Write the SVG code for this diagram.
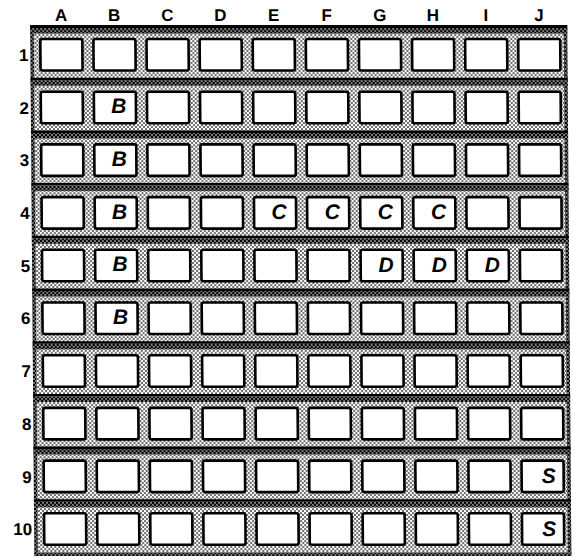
<svg xmlns="http://www.w3.org/2000/svg" width="575" height="557" viewBox="0 0 575 557">
<style>
.cell{fill:#fff;stroke:#000;stroke-width:2.6}
.hd{font-family:"Liberation Sans",Arial,sans-serif;font-weight:bold;font-size:17px;fill:#000;text-anchor:middle}
.rl{font-family:"Liberation Sans",Arial,sans-serif;font-weight:bold;font-size:17px;fill:#000;text-anchor:end}
.lt{font-family:"Liberation Sans",Arial,sans-serif;font-weight:bold;font-style:italic;font-size:21px;fill:#000;text-anchor:middle}
</style>
<defs>
<pattern id="light" patternUnits="userSpaceOnUse" width="4" height="4">
<rect width="4" height="4" fill="#fff"/>
<circle cx="1" cy="1" r="0.9" fill="#000"/>
<circle cx="3" cy="3" r="0.9" fill="#000"/>
</pattern>
<pattern id="dark" patternUnits="userSpaceOnUse" width="4" height="4">
<rect width="4" height="4" fill="#000"/>
<circle cx="1" cy="1" r="0.8" fill="#fff"/>
<circle cx="3" cy="3" r="0.8" fill="#fff"/>
</pattern>
</defs>
<rect width="575" height="557" fill="#fff"/>
<g transform="skewX(0.45)">
<g id="frame">
<rect x="30" y="25" width="537" height="531" fill="url(#light)"/>
<rect x="30" y="25" width="3.5" height="531" fill="url(#dark)"/>
<rect x="563.5" y="25" width="3.5" height="531" fill="url(#dark)"/>
<rect x="30" y="552.5" width="537" height="3.5" fill="url(#dark)"/>
</g>
<g id="separators">
<rect x="30" y="25" width="537" height="3" fill="#000"/><rect x="30" y="28" width="537" height="5.5" fill="url(#dark)"/>
<rect x="30" y="77.7" width="537" height="2.5" fill="#000"/><rect x="30" y="80.2" width="537" height="5.5" fill="url(#dark)"/>
<rect x="30" y="130.4" width="537" height="2.5" fill="#000"/><rect x="30" y="132.9" width="537" height="5.5" fill="url(#dark)"/>
<rect x="30" y="183.1" width="537" height="2.5" fill="#000"/><rect x="30" y="185.6" width="537" height="5.5" fill="url(#dark)"/>
<rect x="30" y="235.8" width="537" height="2.5" fill="#000"/><rect x="30" y="238.3" width="537" height="5.5" fill="url(#dark)"/>
<rect x="30" y="288.5" width="537" height="2.5" fill="#000"/><rect x="30" y="291" width="537" height="5.5" fill="url(#dark)"/>
<rect x="30" y="341.2" width="537" height="2.5" fill="#000"/><rect x="30" y="343.7" width="537" height="5.5" fill="url(#dark)"/>
<rect x="30" y="393.9" width="537" height="2.5" fill="#000"/><rect x="30" y="396.4" width="537" height="5.5" fill="url(#dark)"/>
<rect x="30" y="446.6" width="537" height="2.5" fill="#000"/><rect x="30" y="449.1" width="537" height="5.5" fill="url(#dark)"/>
<rect x="30" y="499.3" width="537" height="2.5" fill="#000"/><rect x="30" y="501.8" width="537" height="5.5" fill="url(#dark)"/>
</g>
<g id="column-headers">
<text class="hd" x="61" y="21.5">A</text>
<text class="hd" x="114.1" y="21.5">B</text>
<text class="hd" x="167.2" y="21.5">C</text>
<text class="hd" x="220.3" y="21.5">D</text>
<text class="hd" x="273.4" y="21.5">E</text>
<text class="hd" x="326.5" y="21.5">F</text>
<text class="hd" x="379.6" y="21.5">G</text>
<text class="hd" x="432.7" y="21.5">H</text>
<text class="hd" x="485.8" y="21.5">I</text>
<text class="hd" x="538.9" y="21.5">J</text>
</g>
<g id="row-labels">
<text class="rl" x="28" y="61">1</text>
<text class="rl" x="28" y="113.7">2</text>
<text class="rl" x="28" y="166.4">3</text>
<text class="rl" x="28" y="219.1">4</text>
<text class="rl" x="28" y="271.8">5</text>
<text class="rl" x="28" y="324.5">6</text>
<text class="rl" x="28" y="377.2">7</text>
<text class="rl" x="28" y="429.9">8</text>
<text class="rl" x="28" y="482.6">9</text>
<text class="rl" x="28" y="535.3">10</text>
</g>
<g id="row1">
<g id="A1"><rect class="cell" x="40" y="39" width="42" height="31.5" rx="2"/></g>
<g id="B1"><rect class="cell" x="93.1" y="39" width="42" height="31.5" rx="2"/></g>
<g id="C1"><rect class="cell" x="146.2" y="39" width="42" height="31.5" rx="2"/></g>
<g id="D1"><rect class="cell" x="199.3" y="39" width="42" height="31.5" rx="2"/></g>
<g id="E1"><rect class="cell" x="252.4" y="39" width="42" height="31.5" rx="2"/></g>
<g id="F1"><rect class="cell" x="305.5" y="39" width="42" height="31.5" rx="2"/></g>
<g id="G1"><rect class="cell" x="358.6" y="39" width="42" height="31.5" rx="2"/></g>
<g id="H1"><rect class="cell" x="411.7" y="39" width="42" height="31.5" rx="2"/></g>
<g id="I1"><rect class="cell" x="464.8" y="39" width="42" height="31.5" rx="2"/></g>
<g id="J1"><rect class="cell" x="517.9" y="39" width="42" height="31.5" rx="2"/></g>
</g>
<g id="row2">
<g id="A2"><rect class="cell" x="40" y="91.7" width="42" height="31.5" rx="2"/></g>
<g id="B2"><rect class="cell" x="93.1" y="91.7" width="42" height="31.5" rx="2"/><text class="lt" x="118" y="113.2">B</text></g>
<g id="C2"><rect class="cell" x="146.2" y="91.7" width="42" height="31.5" rx="2"/></g>
<g id="D2"><rect class="cell" x="199.3" y="91.7" width="42" height="31.5" rx="2"/></g>
<g id="E2"><rect class="cell" x="252.4" y="91.7" width="42" height="31.5" rx="2"/></g>
<g id="F2"><rect class="cell" x="305.5" y="91.7" width="42" height="31.5" rx="2"/></g>
<g id="G2"><rect class="cell" x="358.6" y="91.7" width="42" height="31.5" rx="2"/></g>
<g id="H2"><rect class="cell" x="411.7" y="91.7" width="42" height="31.5" rx="2"/></g>
<g id="I2"><rect class="cell" x="464.8" y="91.7" width="42" height="31.5" rx="2"/></g>
<g id="J2"><rect class="cell" x="517.9" y="91.7" width="42" height="31.5" rx="2"/></g>
</g>
<g id="row3">
<g id="A3"><rect class="cell" x="40" y="144.4" width="42" height="31.5" rx="2"/></g>
<g id="B3"><rect class="cell" x="93.1" y="144.4" width="42" height="31.5" rx="2"/><text class="lt" x="118" y="165.9">B</text></g>
<g id="C3"><rect class="cell" x="146.2" y="144.4" width="42" height="31.5" rx="2"/></g>
<g id="D3"><rect class="cell" x="199.3" y="144.4" width="42" height="31.5" rx="2"/></g>
<g id="E3"><rect class="cell" x="252.4" y="144.4" width="42" height="31.5" rx="2"/></g>
<g id="F3"><rect class="cell" x="305.5" y="144.4" width="42" height="31.5" rx="2"/></g>
<g id="G3"><rect class="cell" x="358.6" y="144.4" width="42" height="31.5" rx="2"/></g>
<g id="H3"><rect class="cell" x="411.7" y="144.4" width="42" height="31.5" rx="2"/></g>
<g id="I3"><rect class="cell" x="464.8" y="144.4" width="42" height="31.5" rx="2"/></g>
<g id="J3"><rect class="cell" x="517.9" y="144.4" width="42" height="31.5" rx="2"/></g>
</g>
<g id="row4">
<g id="A4"><rect class="cell" x="40" y="197.1" width="42" height="31.5" rx="2"/></g>
<g id="B4"><rect class="cell" x="93.1" y="197.1" width="42" height="31.5" rx="2"/><text class="lt" x="118" y="218.6">B</text></g>
<g id="C4"><rect class="cell" x="146.2" y="197.1" width="42" height="31.5" rx="2"/></g>
<g id="D4"><rect class="cell" x="199.3" y="197.1" width="42" height="31.5" rx="2"/></g>
<g id="E4"><rect class="cell" x="252.4" y="197.1" width="42" height="31.5" rx="2"/><text class="lt" x="277.5" y="218.6">C</text></g>
<g id="F4"><rect class="cell" x="305.5" y="197.1" width="42" height="31.5" rx="2"/><text class="lt" x="330.6" y="218.6">C</text></g>
<g id="G4"><rect class="cell" x="358.6" y="197.1" width="42" height="31.5" rx="2"/><text class="lt" x="383.7" y="218.6">C</text></g>
<g id="H4"><rect class="cell" x="411.7" y="197.1" width="42" height="31.5" rx="2"/><text class="lt" x="436.8" y="218.6">C</text></g>
<g id="I4"><rect class="cell" x="464.8" y="197.1" width="42" height="31.5" rx="2"/></g>
<g id="J4"><rect class="cell" x="517.9" y="197.1" width="42" height="31.5" rx="2"/></g>
</g>
<g id="row5">
<g id="A5"><rect class="cell" x="40" y="249.8" width="42" height="31.5" rx="2"/></g>
<g id="B5"><rect class="cell" x="93.1" y="249.8" width="42" height="31.5" rx="2"/><text class="lt" x="118" y="271.5">B</text></g>
<g id="C5"><rect class="cell" x="146.2" y="249.8" width="42" height="31.5" rx="2"/></g>
<g id="D5"><rect class="cell" x="199.3" y="249.8" width="42" height="31.5" rx="2"/></g>
<g id="E5"><rect class="cell" x="252.4" y="249.8" width="42" height="31.5" rx="2"/></g>
<g id="F5"><rect class="cell" x="305.5" y="249.8" width="42" height="31.5" rx="2"/></g>
<g id="G5"><rect class="cell" x="358.6" y="249.8" width="42" height="31.5" rx="2"/><text class="lt" x="384" y="271.8">D</text></g>
<g id="H5"><rect class="cell" x="411.7" y="249.8" width="42" height="31.5" rx="2"/><text class="lt" x="437.1" y="271.8">D</text></g>
<g id="I5"><rect class="cell" x="464.8" y="249.8" width="42" height="31.5" rx="2"/><text class="lt" x="490.2" y="271.8">D</text></g>
<g id="J5"><rect class="cell" x="517.9" y="249.8" width="42" height="31.5" rx="2"/></g>
</g>
<g id="row6">
<g id="A6"><rect class="cell" x="40" y="302.5" width="42" height="31.5" rx="2"/></g>
<g id="B6"><rect class="cell" x="93.1" y="302.5" width="42" height="31.5" rx="2"/><text class="lt" x="118" y="324.2">B</text></g>
<g id="C6"><rect class="cell" x="146.2" y="302.5" width="42" height="31.5" rx="2"/></g>
<g id="D6"><rect class="cell" x="199.3" y="302.5" width="42" height="31.5" rx="2"/></g>
<g id="E6"><rect class="cell" x="252.4" y="302.5" width="42" height="31.5" rx="2"/></g>
<g id="F6"><rect class="cell" x="305.5" y="302.5" width="42" height="31.5" rx="2"/></g>
<g id="G6"><rect class="cell" x="358.6" y="302.5" width="42" height="31.5" rx="2"/></g>
<g id="H6"><rect class="cell" x="411.7" y="302.5" width="42" height="31.5" rx="2"/></g>
<g id="I6"><rect class="cell" x="464.8" y="302.5" width="42" height="31.5" rx="2"/></g>
<g id="J6"><rect class="cell" x="517.9" y="302.5" width="42" height="31.5" rx="2"/></g>
</g>
<g id="row7">
<g id="A7"><rect class="cell" x="40" y="355.2" width="42" height="31.5" rx="2"/></g>
<g id="B7"><rect class="cell" x="93.1" y="355.2" width="42" height="31.5" rx="2"/></g>
<g id="C7"><rect class="cell" x="146.2" y="355.2" width="42" height="31.5" rx="2"/></g>
<g id="D7"><rect class="cell" x="199.3" y="355.2" width="42" height="31.5" rx="2"/></g>
<g id="E7"><rect class="cell" x="252.4" y="355.2" width="42" height="31.5" rx="2"/></g>
<g id="F7"><rect class="cell" x="305.5" y="355.2" width="42" height="31.5" rx="2"/></g>
<g id="G7"><rect class="cell" x="358.6" y="355.2" width="42" height="31.5" rx="2"/></g>
<g id="H7"><rect class="cell" x="411.7" y="355.2" width="42" height="31.5" rx="2"/></g>
<g id="I7"><rect class="cell" x="464.8" y="355.2" width="42" height="31.5" rx="2"/></g>
<g id="J7"><rect class="cell" x="517.9" y="355.2" width="42" height="31.5" rx="2"/></g>
</g>
<g id="row8">
<g id="A8"><rect class="cell" x="40" y="407.9" width="42" height="31.5" rx="2"/></g>
<g id="B8"><rect class="cell" x="93.1" y="407.9" width="42" height="31.5" rx="2"/></g>
<g id="C8"><rect class="cell" x="146.2" y="407.9" width="42" height="31.5" rx="2"/></g>
<g id="D8"><rect class="cell" x="199.3" y="407.9" width="42" height="31.5" rx="2"/></g>
<g id="E8"><rect class="cell" x="252.4" y="407.9" width="42" height="31.5" rx="2"/></g>
<g id="F8"><rect class="cell" x="305.5" y="407.9" width="42" height="31.5" rx="2"/></g>
<g id="G8"><rect class="cell" x="358.6" y="407.9" width="42" height="31.5" rx="2"/></g>
<g id="H8"><rect class="cell" x="411.7" y="407.9" width="42" height="31.5" rx="2"/></g>
<g id="I8"><rect class="cell" x="464.8" y="407.9" width="42" height="31.5" rx="2"/></g>
<g id="J8"><rect class="cell" x="517.9" y="407.9" width="42" height="31.5" rx="2"/></g>
</g>
<g id="row9">
<g id="A9"><rect class="cell" x="40" y="460.6" width="42" height="31.5" rx="2"/></g>
<g id="B9"><rect class="cell" x="93.1" y="460.6" width="42" height="31.5" rx="2"/></g>
<g id="C9"><rect class="cell" x="146.2" y="460.6" width="42" height="31.5" rx="2"/></g>
<g id="D9"><rect class="cell" x="199.3" y="460.6" width="42" height="31.5" rx="2"/></g>
<g id="E9"><rect class="cell" x="252.4" y="460.6" width="42" height="31.5" rx="2"/></g>
<g id="F9"><rect class="cell" x="305.5" y="460.6" width="42" height="31.5" rx="2"/></g>
<g id="G9"><rect class="cell" x="358.6" y="460.6" width="42" height="31.5" rx="2"/></g>
<g id="H9"><rect class="cell" x="411.7" y="460.6" width="42" height="31.5" rx="2"/></g>
<g id="I9"><rect class="cell" x="464.8" y="460.6" width="42" height="31.5" rx="2"/></g>
<g id="J9"><rect class="cell" x="517.9" y="460.6" width="42" height="31.5" rx="2"/><text class="lt" x="545" y="482.9">S</text></g>
</g>
<g id="row10">
<g id="A10"><rect class="cell" x="40" y="513.3" width="42" height="31.5" rx="2"/></g>
<g id="B10"><rect class="cell" x="93.1" y="513.3" width="42" height="31.5" rx="2"/></g>
<g id="C10"><rect class="cell" x="146.2" y="513.3" width="42" height="31.5" rx="2"/></g>
<g id="D10"><rect class="cell" x="199.3" y="513.3" width="42" height="31.5" rx="2"/></g>
<g id="E10"><rect class="cell" x="252.4" y="513.3" width="42" height="31.5" rx="2"/></g>
<g id="F10"><rect class="cell" x="305.5" y="513.3" width="42" height="31.5" rx="2"/></g>
<g id="G10"><rect class="cell" x="358.6" y="513.3" width="42" height="31.5" rx="2"/></g>
<g id="H10"><rect class="cell" x="411.7" y="513.3" width="42" height="31.5" rx="2"/></g>
<g id="I10"><rect class="cell" x="464.8" y="513.3" width="42" height="31.5" rx="2"/></g>
<g id="J10"><rect class="cell" x="517.9" y="513.3" width="42" height="31.5" rx="2"/><text class="lt" x="545" y="535.6">S</text></g>
</g>
</g>
</svg>
